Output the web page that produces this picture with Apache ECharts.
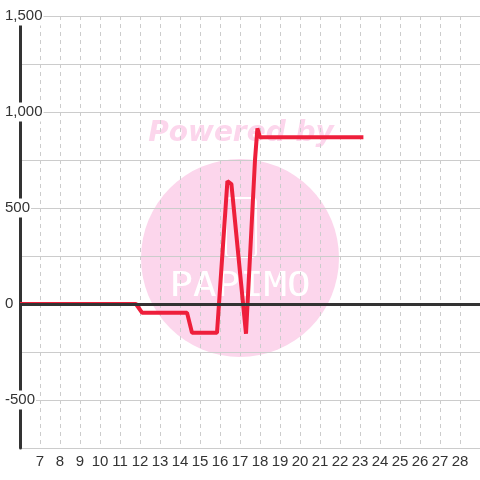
<!DOCTYPE html>
<html>
<head>
<meta charset="utf-8">
<script src="https://cdn.jsdelivr.net/npm/echarts@6/dist/echarts.min.js"></script>
<style>
  html, body { margin: 0; padding: 0; background: #fff; }
  #chart { width: 480px; height: 480px; }
</style>
</head>
<body>
<div id="chart"></div>
<script>
// values
const xValues = [6, 11.8, 12.1, 14.35, 14.6, 15.85, 16.37, 16.57, 17.3, 17.75, 17.87, 18.0, 23.17]
const yValues = [0, 0, -45, -45, -150, -150, 640, 625, -155, 750, 915, 868, 868]
const xRange = [6, 29]
const yRange = [-750, 1500]
const yLabelStep = 500

const chart = echarts.init(document.getElementById('chart'))
const pink = '#fcd6ec'

chart.setOption({
  animation: false,
  backgroundColor: '#fff',
  textStyle: { fontFamily: 'Liberation Sans' },
  grid: { left: 20, right: 0, top: 16, bottom: 32 },
  graphic: [
    {
      type: 'circle',
      z: -10,
      shape: { cx: 240, cy: 258, r: 99 },
      style: { fill: pink }
    },
    {
      type: 'text',
      z: -10,
      x: 241,
      y: 134,
      style: {
        text: 'Powered by',
        fill: pink,
        font: 'italic bold 28px "DejaVu Sans"',
        align: 'center',
        verticalAlign: 'middle'
      }
    },
    {
      type: 'rect',
      z: -9,
      shape: { x: 226, y: 198, width: 30, height: 59, r: 4 },
      style: { fill: 'none', stroke: '#fff', lineWidth: 2 }
    },
    {
      type: 'text',
      z: -9,
      x: 240,
      y: 287,
      scaleX: 1.15,
      style: {
        text: 'PAPIMO',
        fill: '#fff',
        font: '34px "DejaVu Sans Mono"',
        align: 'center',
        verticalAlign: 'middle'
      }
    }
  ],
  xAxis: {
    type: 'value',
    min: xRange[0],
    max: xRange[1],
    interval: 1,
    axisLine: { show: false },
    axisTick: { show: false },
    axisLabel: {
      showMinLabel: false,
      showMaxLabel: false,
      color: '#333',
      fontSize: 15,
      margin: 6
    },
    splitLine: {
      show: true,
      lineStyle: { color: '#ccc', type: [4, 4], width: 1 }
    }
  },
  yAxis: {
    type: 'value',
    min: yRange[0],
    max: yRange[1],
    interval: 250,
    axisLine: {
      show: true,
      onZero: false,
      lineStyle: { color: '#333', width: 3 }
    },
    axisTick: { show: false },
    axisLabel: {
      color: '#333',
      fontSize: 15,
      align: 'left',
      margin: 15,
      backgroundColor: '#fff',
      padding: [2, 1, 2, 0],
      formatter: (value) => value % yLabelStep === 0 ? value.toLocaleString('en-US') : ''
    },
    splitLine: {
      lineStyle: { color: '#ccc', width: 1 }
    }
  },
  series: [
    {
      type: 'line',
      z: 1,
      data: [],
      markLine: {
        silent: true,
        symbol: 'none',
        label: { show: false },
        lineStyle: { color: '#333', width: 3, type: 'solid' },
        data: [{ yAxis: 0 }]
      }
    },
    {
      type: 'line',
      z: 3,
      data: xValues.map((x, i) => [x, yValues[i]]),
      showSymbol: false,
      lineStyle: { color: '#ee1f3b', width: 4, join: 'bevel' }
    }
  ]
})
</script>
</body>
</html>
